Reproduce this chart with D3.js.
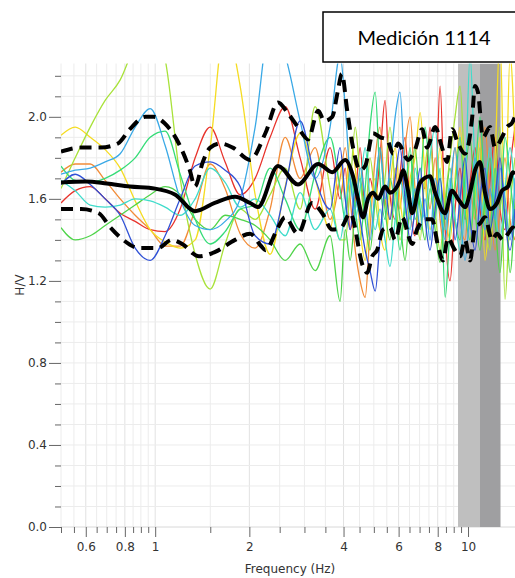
<!DOCTYPE html>
<meta charset="utf-8">
<style>
  body { margin: 0; background: #fff; }
  .axis .domain { display: none; }
  .axis text { font: 12px "DejaVu Sans", sans-serif; fill: #333; }
  .axis line { stroke: #666; }
</style>
<svg width="515" height="578"></svg>
<script src="https://d3js.org/d3.v7.min.js"></script>
<script>
var winFreq = [0.5, 0.555, 0.62, 0.692, 0.773, 0.863, 0.964, 1.076, 1.202, 1.342, 1.499, 1.673, 1.869, 2.087, 2.33,
  2.603, 2.906, 3.245, 3.623, 3.9, 4.05, 4.2, 4.36, 4.52, 4.69, 4.86, 5.05, 5.23, 5.43, 5.63, 5.85, 6.06, 6.29,
  6.53, 6.77, 7.03, 7.29, 7.56, 7.85, 8.14, 8.45, 8.76, 9.09, 9.43, 9.78, 10.15, 10.53, 10.92, 11.33, 11.76,
  12.2, 12.65, 13.13, 13.62, 14.13];

// H/V of each window
var winRed = [1.58, 1.64, 1.66, 1.60, 1.53, 1.49, 1.45, 1.44, 1.55, 1.80, 1.95, 1.78, 1.62, 1.70, 1.90, 2.05, 1.80, 1.55, 1.85, 1.60,
  1.75, 1.45, 1.60, 1.85, 1.55, 1.70, 1.60, 1.80, 2.08, 1.62, 1.50, 1.72, 1.90, 1.55, 1.42, 1.70, 1.65, 1.95, 1.60, 2.15,
  1.45, 1.20, 1.55, 1.75, 1.50, 1.68, 1.85, 1.55, 1.40, 1.70, 1.90, 1.55, 1.45, 1.75, 1.95];
var winOrange = [1.73, 1.77, 1.77, 1.69, 1.60, 1.52, 1.45, 1.37, 1.37, 1.55, 1.77, 1.65, 1.43, 1.36, 1.55, 1.90, 1.70, 1.85, 1.50, 1.70,
  1.85, 1.60, 1.35, 1.20, 1.12, 1.45, 1.80, 1.95, 1.60, 1.50, 1.75, 1.55, 1.85, 2.00, 1.65, 1.45, 1.70, 1.55, 1.80, 1.50,
  1.35, 1.60, 1.85, 1.50, 1.40, 1.65, 1.50, 1.75, 1.95, 1.60, 1.35, 1.55, 1.80, 1.50, 1.40];
var winYellow = [1.91, 1.95, 1.90, 1.84, 1.75, 1.59, 1.45, 1.39, 1.36, 1.40, 1.85, 2.45, 2.15, 1.62, 1.33, 1.66, 1.92, 1.70, 1.45, 1.78,
  1.60, 1.90, 1.75, 1.45, 1.30, 1.55, 1.70, 1.45, 1.35, 1.65, 1.85, 1.60, 1.45, 1.70, 1.80, 2.02, 1.70, 1.45, 1.60, 1.85,
  1.55, 1.40, 1.70, 1.95, 1.60, 1.40, 1.65, 1.90, 1.30, 1.55, 1.80, 2.40, 1.50, 2.30, 1.85];
var winLime = [1.65, 1.80, 1.95, 2.08, 2.18, 2.35, 2.45, 2.28, 1.70, 1.33, 1.16, 1.38, 1.55, 1.50, 1.62, 1.75, 1.55, 2.05, 1.65, 1.40,
  1.40, 1.65, 1.95, 1.70, 1.50, 1.80, 1.60, 1.45, 1.70, 1.95, 1.65, 1.40, 1.55, 1.80, 1.60, 1.40, 1.75, 1.90, 1.55, 1.35,
  1.60, 1.80, 2.00, 2.15, 1.70, 1.45, 1.60, 1.85, 1.50, 1.35, 1.70, 1.95, 1.11, 1.55, 1.80];
var winGreen = [1.46, 1.40, 1.42, 1.47, 1.52, 1.57, 1.62, 1.66, 1.62, 1.50, 1.45, 1.52, 1.50, 1.47, 1.40, 1.30, 1.38, 1.25, 1.42, 1.10,
  1.45, 1.30, 1.55, 1.70, 1.50, 1.35, 1.60, 1.85, 1.55, 1.40, 1.65, 1.50, 1.30, 1.60, 1.85, 1.55, 1.40, 1.65, 1.45, 1.29,
  1.55, 1.75, 1.50, 1.40, 1.70, 1.90, 1.55, 1.35, 1.60, 1.80, 1.50, 1.24, 1.55, 1.24, 1.60];
var winSpring = [1.76, 1.69, 1.68, 1.70, 1.74, 1.80, 1.90, 1.93, 1.72, 1.50, 1.38, 1.44, 1.55, 1.57, 1.75, 1.60, 1.45, 1.72, 1.90, 1.65,
  1.50, 1.75, 1.55, 1.40, 1.65, 1.95, 2.12, 1.70, 1.50, 1.70, 1.55, 1.35, 1.60, 1.85, 1.50, 1.65, 1.95, 1.70, 1.50, 1.75,
  1.12, 1.45, 1.65, 1.90, 1.55, 1.40, 1.70, 2.00, 1.60, 1.45, 1.75, 1.55, 1.90, 1.70, 1.45];
var winTurq = [1.69, 1.64, 1.57, 1.56, 1.57, 1.60, 1.59, 1.56, 1.52, 1.60, 1.75, 1.68, 1.56, 1.60, 1.52, 1.42, 1.63, 1.45, 1.55, 1.40,
  1.55, 1.70, 1.50, 1.65, 1.85, 1.60, 1.45, 1.55, 1.40, 1.27, 1.50, 1.70, 1.55, 1.45, 1.75, 1.60, 1.50, 1.80, 1.95, 1.60,
  1.45, 1.70, 1.50, 1.35, 1.60, 2.30, 1.75, 1.50, 1.65, 1.85, 1.55, 1.40, 1.65, 1.85, 1.60];
var winSky = [1.72, 1.74, 1.75, 1.78, 1.82, 1.95, 2.04, 1.86, 1.60, 1.47, 1.45, 1.49, 1.60, 1.95, 2.45, 2.30, 1.98, 1.70, 1.95, 2.30,
  2.05, 1.70, 1.55, 1.75, 1.60, 1.40, 1.65, 1.85, 1.60, 1.75, 2.00, 2.12, 1.70, 1.50, 1.65, 1.45, 1.60, 1.40, 1.70, 1.55,
  1.40, 1.65, 1.85, 1.55, 1.30, 1.55, 1.80, 1.60, 1.45, 1.65, 1.50, 1.75, 1.60, 1.40, 1.70];
var winBlue = [1.67, 1.72, 1.67, 1.60, 1.52, 1.36, 1.30, 1.42, 1.60, 1.76, 1.78, 1.74, 1.66, 1.42, 1.38, 1.65, 1.98, 1.70, 1.55, 1.85,
  1.60, 1.45, 1.65, 1.50, 1.35, 1.25, 1.15, 1.40, 1.65, 1.50, 1.70, 1.85, 1.60, 1.40, 1.55, 1.75, 1.50, 1.35, 1.55, 1.70,
  1.50, 1.65, 1.40, 1.60, 1.80, 1.50, 1.35, 1.60, 1.75, 1.45, 1.60, 1.80, 1.50, 1.35, 1.55];

var windows = [winRed, winOrange, winYellow, winLime, winGreen, winSpring, winTurq, winSky, winBlue];
var winColors = ["#e8332c", "#f28c38", "#f5dc22", "#a8e23a", "#4fd44a", "#36dc78", "#3fdccb", "#3aa9e6", "#3152d6"];

// average and standard-deviation curves, [frequency, H/V]
var meanHV = [[0.5, 1.68], [0.6, 1.685], [0.7, 1.675], [0.83, 1.66], [1.0, 1.65], [1.16, 1.62], [1.34, 1.54], [1.55, 1.58],
  [1.8, 1.61], [2.01, 1.58], [2.13, 1.56], [2.47, 1.76], [2.86, 1.67], [3.32, 1.77], [3.68, 1.73], [4.05, 1.79],
  [4.29, 1.71], [4.45, 1.6], [4.62, 1.51], [4.79, 1.6], [4.97, 1.63], [5.16, 1.6], [5.43, 1.66], [5.63, 1.63],
  [6.06, 1.69], [6.2, 1.74], [6.43, 1.64], [6.63, 1.53], [7.03, 1.68], [7.56, 1.71], [7.85, 1.63], [8.44, 1.53],
  [8.89, 1.64], [9.29, 1.6], [9.78, 1.56], [10.15, 1.63], [10.53, 1.74], [10.92, 1.78], [11.33, 1.63], [11.76, 1.55],
  [12.38, 1.58], [12.84, 1.64], [13.42, 1.66], [13.92, 1.73], [14.13, 1.72]];
var upperHV = [[0.5, 1.83], [0.58, 1.85], [0.67, 1.85], [0.76, 1.87], [0.83, 1.94], [0.93, 2.0], [0.99, 2.0], [1.07, 1.97],
  [1.19, 1.87], [1.29, 1.74], [1.34, 1.66], [1.42, 1.78], [1.5, 1.85], [1.62, 1.87], [1.77, 1.85], [2.01, 1.79],
  [2.25, 1.92], [2.47, 2.07], [2.65, 2.02], [2.86, 1.95], [3.08, 1.89], [3.32, 2.03], [3.47, 1.98], [3.68, 2.0],
  [3.83, 2.12], [3.95, 2.21], [4.11, 2.03], [4.29, 1.85], [4.52, 1.74], [4.69, 1.76], [4.97, 1.92], [5.24, 1.9],
  [5.51, 1.89], [5.76, 1.82], [5.98, 1.87], [6.43, 1.79], [6.77, 1.84], [7.13, 1.94], [7.4, 1.85], [7.85, 1.95],
  [8.26, 1.85], [8.57, 1.78], [8.89, 1.94], [9.29, 1.87], [9.78, 1.82], [10.3, 1.99], [10.53, 2.15], [10.76, 2.12],
  [11.16, 1.9], [11.76, 1.95], [12.2, 1.85], [12.84, 1.9], [13.32, 1.95], [13.82, 1.97], [14.13, 2.0]];
var lowerHV = [[0.5, 1.55], [0.58, 1.55], [0.66, 1.53], [0.72, 1.46], [0.79, 1.4], [0.89, 1.36], [1.02, 1.36], [1.13, 1.4],
  [1.22, 1.38], [1.38, 1.32], [1.55, 1.34], [1.8, 1.4], [2.01, 1.43], [2.18, 1.37], [2.25, 1.35], [2.47, 1.46],
  [2.6, 1.51], [2.86, 1.43], [3.17, 1.58], [3.42, 1.53], [3.68, 1.45], [3.93, 1.46], [4.2, 1.53], [4.62, 1.27],
  [4.76, 1.24], [4.94, 1.32], [5.12, 1.35], [5.35, 1.45], [5.63, 1.46], [5.85, 1.4], [6.15, 1.51], [6.63, 1.38],
  [6.87, 1.45], [7.29, 1.5], [7.67, 1.5], [8.02, 1.37], [8.32, 1.3], [8.63, 1.41], [9.0, 1.36], [9.43, 1.32],
  [9.78, 1.4], [10.15, 1.3], [10.53, 1.46], [10.92, 1.48], [11.33, 1.51], [11.93, 1.4], [12.38, 1.43],
  [12.93, 1.4], [13.42, 1.43], [13.92, 1.46], [14.13, 1.45]];

// shaded peak-frequency bands
var bandLight = [9.29, 10.92];
var bandDark = [10.92, 12.7];

// tick values
var xMajor = [0.6, 0.8, 1, 2, 4, 6, 8, 10];
var xMinor = [0.5, 0.55, 0.65, 0.7, 0.75, 0.85, 0.9, 0.95, 1.5, 2.5, 3, 3.5, 4.5, 5, 5.5, 6.5, 7, 7.5, 8.5, 9, 9.5];
var yMajor = [0, 0.4, 0.8, 1.2, 1.6, 2.0];
var yMinor = [0.1, 0.2, 0.3, 0.5, 0.6, 0.7, 0.9, 1.0, 1.1, 1.3, 1.4, 1.5, 1.7, 1.8, 1.9, 2.1, 2.2];

var svg = d3.select("svg"),
    plotL = 61, plotR = 515, plotT = 63.5, plotB = 527;

var x = d3.scaleLog().domain([0.5, 14.13]).range([plotL, plotR]);
var y = d3.scaleLinear().domain([0, 2.26]).range([plotB, plotT]);

svg.append("defs").append("clipPath").attr("id", "plot")
  .append("rect").attr("x", plotL).attr("y", plotT).attr("width", plotR - plotL).attr("height", plotB - plotT);

// grid
var grid = svg.append("g");
grid.selectAll(".gx").data(xMinor.concat(xMajor)).enter().append("line")
    .attr("x1", function(d) { return x(d); }).attr("x2", function(d) { return x(d); })
    .attr("y1", plotT).attr("y2", plotB)
    .attr("stroke", function(d) { return xMajor.indexOf(d) >= 0 ? "#e2e2e2" : "#ececec"; });
grid.selectAll(".gy").data(yMinor.concat(yMajor)).enter().append("line")
    .attr("x1", plotL).attr("x2", plotR)
    .attr("y1", function(d) { return y(d); }).attr("y2", function(d) { return y(d); })
    .attr("stroke", function(d) { return d === 0 ? "#d8d8d8" : "#ececec"; });

// bands
var plot = svg.append("g").attr("clip-path", "url(#plot)");
plot.append("rect").attr("x", x(bandLight[0])).attr("width", x(bandLight[1]) - x(bandLight[0]))
    .attr("y", plotT).attr("height", plotB - plotT).attr("fill", "#bfbfbf");
plot.append("rect").attr("x", x(bandDark[0])).attr("width", x(bandDark[1]) - x(bandDark[0]))
    .attr("y", plotT).attr("height", plotB - plotT).attr("fill", "#9f9fa1");

// windows
var winLine = d3.line()
    .x(function(d, i) { return x(winFreq[i]); })
    .y(function(d) { return y(d); })
    .curve(d3.curveMonotoneX);

plot.selectAll(".win").data(windows).enter().append("path")
    .attr("class", "win")
    .attr("d", winLine)
    .attr("fill", "none")
    .attr("stroke", function(d, i) { return winColors[i]; })
    .attr("stroke-width", 1.3);

var pairLine = d3.line()
    .x(function(d) { return x(d[0]); })
    .y(function(d) { return y(d[1]); })
    .curve(d3.curveMonotoneX);

plot.selectAll(".std").data([upperHV, lowerHV]).enter().append("path")
    .attr("d", pairLine)
    .attr("fill", "none")
    .attr("stroke", "#000")
    .attr("stroke-width", 4)
    .attr("stroke-dasharray", "12,7");

plot.append("path").datum(meanHV)
    .attr("d", pairLine)
    .attr("fill", "none")
    .attr("stroke", "#000")
    .attr("stroke-width", 4);

// axes
svg.append("g").attr("class", "axis").attr("transform", "translate(" + plotL + ",0)")
    .call(d3.axisLeft(y).tickValues(yMinor).tickSize(6).tickFormat(""));
svg.append("g").attr("class", "axis").attr("transform", "translate(" + plotL + ",0)")
    .call(d3.axisLeft(y).tickValues(yMajor).tickSize(12).tickPadding(2).tickFormat(d3.format(".1f")));

svg.append("g").attr("class", "axis").attr("transform", "translate(0," + plotB + ")")
    .call(d3.axisBottom(x).tickValues(xMinor).tickSize(6).tickFormat(""));
svg.append("g").attr("class", "axis").attr("transform", "translate(0," + plotB + ")")
    .call(d3.axisBottom(x).tickValues(xMajor).tickSize(10).tickPadding(5).tickFormat(d3.format("")));

svg.append("text")
    .attr("x", 290).attr("y", 573)
    .attr("text-anchor", "middle")
    .style("font", "12px 'DejaVu Sans', sans-serif").style("fill", "#333")
    .text("Frequency (Hz)");

svg.append("text")
    .attr("transform", "translate(24,285) rotate(-90)")
    .attr("text-anchor", "middle")
    .style("font", "12px 'DejaVu Sans', sans-serif").style("fill", "#333")
    .text("H/V");

// title box
svg.append("rect")
    .attr("x", 323).attr("y", 12).attr("width", 210).attr("height", 50)
    .attr("fill", "#fff").attr("stroke", "#000").attr("stroke-width", 1.5);
svg.append("text")
    .attr("x", 424).attr("y", 45)
    .attr("text-anchor", "middle")
    .style("font", "20px Lato, sans-serif").style("fill", "#000")
    .text("Medición 1114");
</script>
